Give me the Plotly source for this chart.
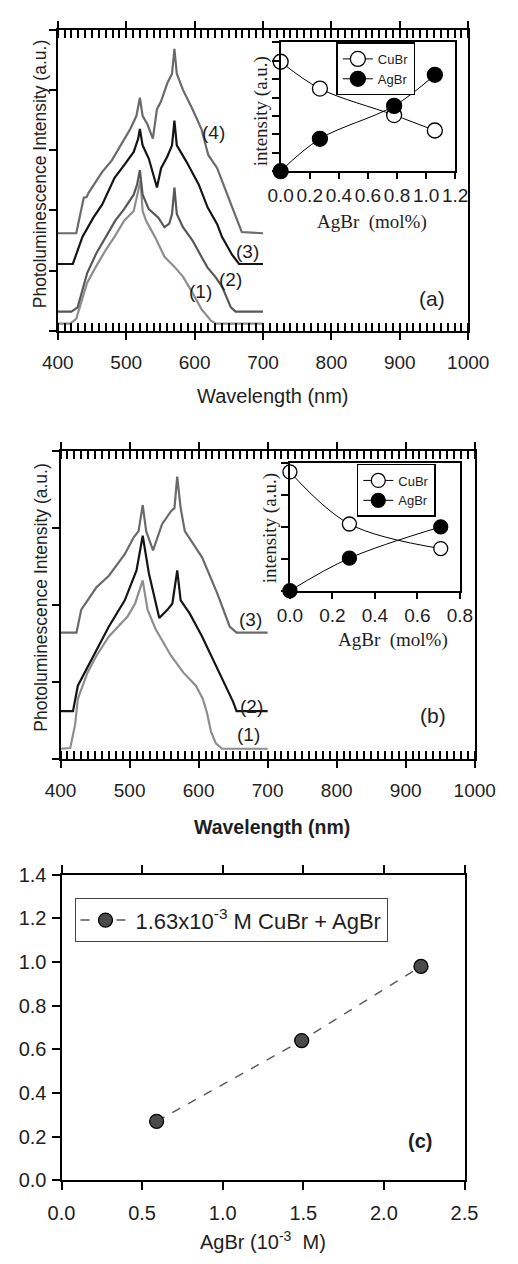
import plotly.graph_objects as go

# ---------------- Panel (a): PL spectra (offset, a.u.) ----------------
a1_nm = [400, 418, 427, 434, 443, 456, 470, 484, 497, 511, 517, 521, 524, 529, 542, 556, 570, 583, 597, 610, 618, 624, 631, 700]
a1_I = [0.12, 0.12, 0.20, 0.47, 0.80, 1.07, 1.34, 1.58, 1.83, 1.99, 2.32, 2.50, 1.99, 1.83, 1.56, 1.23, 1.07, 0.90, 0.63, 0.36, 0.25, 0.17, 0.12, 0.12]

a2_nm = [400, 420, 429, 436, 443, 456, 470, 484, 497, 511, 516, 520, 524, 533, 547, 556, 563, 567, 570.5, 574, 583, 597, 610, 619, 630, 640, 653, 660, 700]
a2_I = [0.32, 0.32, 0.39, 0.69, 0.96, 1.28, 1.56, 1.83, 2.02, 2.26, 2.43, 2.67, 2.26, 2.02, 1.88, 1.72, 1.78, 1.94, 2.38, 1.94, 1.72, 1.50, 1.23, 1.05, 0.90, 0.74, 0.39, 0.32, 0.32]

a3_nm = [400, 422, 436, 452, 465, 483, 497, 511, 517.5, 520, 524, 533, 545, 551, 560, 567, 570.5, 574, 588, 606, 619, 633, 640, 655, 665, 700]
a3_I = [1.11, 1.11, 1.56, 1.88, 2.10, 2.54, 2.75, 2.97, 3.19, 3.35, 3.08, 2.86, 2.38, 2.70, 2.89, 3.08, 3.49, 3.08, 2.81, 2.43, 2.05, 1.77, 1.56, 1.26, 1.11, 1.11]

a4_nm = [400, 427, 438, 442, 445, 465, 479, 493, 506, 515, 520, 524, 531, 539, 545, 551, 560, 567, 570.5, 574, 583, 597, 610, 620, 633, 655, 669, 700]
a4_I = [1.62, 1.62, 2.21, 2.22, 2.29, 2.64, 2.83, 3.10, 3.35, 3.57, 3.87, 3.57, 3.43, 3.19, 3.68, 3.81, 4.11, 4.27, 4.68, 4.27, 4.00, 3.68, 3.35, 2.92, 2.70, 2.05, 1.64, 1.62]

# inset (a)
ia_x = [0.0, 0.27, 0.78, 1.06]
ia_cubr = [5.95, 4.49, 3.05, 2.21]
ia_agbr = [0.0, 1.76, 3.55, 5.24]

# ---------------- Panel (b) ----------------
b1_nm = [400, 414, 421, 425, 439, 452, 470, 484, 497, 508, 519, 526, 538, 560, 578, 596, 606, 612, 618, 625, 634, 700]
b1_I = [0.13, 0.14, 0.44, 0.78, 1.12, 1.34, 1.59, 1.72, 1.85, 2.02, 2.32, 1.94, 1.68, 1.34, 1.12, 0.95, 0.78, 0.60, 0.35, 0.20, 0.13, 0.13]

b2_nm = [400, 418, 425, 448, 470, 493, 510, 519, 528, 543, 555, 562, 569, 574, 587, 605, 627, 650, 655, 700]
b2_I = [0.62, 0.62, 0.95, 1.34, 1.72, 2.06, 2.45, 2.90, 2.41, 1.83, 1.94, 2.02, 2.45, 2.06, 1.89, 1.59, 1.17, 0.74, 0.62, 0.62]

b3_nm = [400, 423, 430, 452, 470, 493, 506, 513, 519, 524, 534, 547, 560, 565, 569, 574, 580, 605, 627, 645, 655, 700]
b3_I = [1.64, 1.64, 1.94, 2.23, 2.38, 2.66, 2.88, 2.96, 3.30, 2.96, 2.71, 3.05, 3.22, 3.26, 3.67, 3.26, 2.96, 2.62, 2.15, 1.72, 1.64, 1.64]

# inset (b)
ib_x = [0.0, 0.28, 0.71]
ib_cubr = [3.72, 2.09, 1.32]
ib_agbr = [0.0, 1.02, 2.0]

# ---------------- Panel (c) ----------------
c_x = [0.59, 1.49, 2.23]
c_y = [0.27, 0.64, 0.98]

wl_ticks = [400, 500, 600, 700, 800, 900, 1000]

W, H = 518, 1264
SANS = "Liberation Sans, Arial, sans-serif"
SERIF = "Liberation Serif, Times New Roman, serif"
INK = "#1e1e1e"


def dx(a, b):
    return [a / W, b / W]


def dy(top, bottom):
    return [1 - bottom / H, 1 - top / H]


fig = go.Figure()

for nm, I, col in [(a1_nm, a1_I, "#8e8e8e"), (a2_nm, a2_I, "#575757"),
                   (a3_nm, a3_I, "#151515"), (a4_nm, a4_I, "#6a6a6a")]:
    fig.add_trace(go.Scatter(x=nm, y=I, mode="lines", line=dict(color=col, width=2.2),
                             xaxis="x", yaxis="y", showlegend=False, hoverinfo="skip"))

for nm, I, col in [(b1_nm, b1_I, "#8e8e8e"), (b2_nm, b2_I, "#151515"),
                   (b3_nm, b3_I, "#6a6a6a")]:
    fig.add_trace(go.Scatter(x=nm, y=I, mode="lines", line=dict(color=col, width=2.2),
                             xaxis="x3", yaxis="y3", showlegend=False, hoverinfo="skip"))

for xs, cu, ag, xa, ya, lg, ms in [(ia_x, ia_cubr, ia_agbr, "x2", "y2", "legend2", 15),
                                   (ib_x, ib_cubr, ib_agbr, "x4", "y4", "legend3", 14)]:
    fig.add_trace(go.Scatter(x=xs, y=cu, mode="lines+markers", name="CuBr",
                             line=dict(color="black", width=1, shape="spline"),
                             marker=dict(size=ms, color="white", line=dict(color="black", width=1.3)),
                             xaxis=xa, yaxis=ya, legend=lg, cliponaxis=False))
    fig.add_trace(go.Scatter(x=xs, y=ag, mode="lines+markers", name="AgBr",
                             line=dict(color="black", width=1, shape="spline"),
                             marker=dict(size=ms, color="black", line=dict(color="black", width=1.3)),
                             xaxis=xa, yaxis=ya, legend=lg, cliponaxis=False))

fig.add_trace(go.Scatter(x=c_x, y=c_y, mode="lines+markers",
                         name="1.63x10<sup>-3</sup> M CuBr + AgBr",
                         line=dict(color="#5a5a5a", width=1.5, dash="dash"),
                         marker=dict(size=14, color="#4a4a4a", line=dict(color="black", width=1.3)),
                         xaxis="x5", yaxis="y5", legend="legend", cliponaxis=False))

tickfont = dict(family=SANS, size=19, color=INK)

main_x = dict(range=[400, 1000], tickvals=wl_ticks, ticks="outside", ticklen=7, tickwidth=2,
              tickcolor="black", showline=True, linecolor="black", linewidth=2, mirror="ticks",
              showgrid=False, zeroline=False, tickfont=tickfont, ticklabelstandoff=6,
              minor=dict(dtick=10, ticks="inside", ticklen=8, tickwidth=2, tickcolor="black",
                         showgrid=False))
main_y = dict(ticks="outside", ticklen=7, tickwidth=2, tickcolor="black", dtick=1,
              showline=True, linecolor="black", linewidth=2, mirror=True, showgrid=False,
              zeroline=False, showticklabels=False)

inset_x = dict(ticks="outside", ticklen=6, tickwidth=1.5, tickcolor="black", dtick=0.2,
               tickformat=".1f", showline=True, linecolor="black", linewidth=2, mirror=True,
               showgrid=False, zeroline=False, tickfont=tickfont)
inset_y = dict(ticks="outside", ticklen=7, tickwidth=1.5, tickcolor="black", dtick=1,
               showline=True, linecolor="black", linewidth=2, mirror=True, showgrid=False,
               zeroline=False, showticklabels=False)

fig.update_layout(
    width=W, height=H, autosize=False,
    margin=dict(l=0, r=0, t=0, b=0),
    paper_bgcolor="white", plot_bgcolor="rgba(0,0,0,0)",
    font=dict(family=SANS, color=INK),
    xaxis=dict(main_x, domain=dx(45, 487), anchor="y"),
    yaxis=dict(main_y, domain=dy(19, 325.5), anchor="x", range=[0, 5]),
    xaxis2=dict(inset_x, domain=dx(285, 473), anchor="y2", range=[0, 1.2]),
    yaxis2=dict(inset_y, domain=dy(32, 163), anchor="x2", range=[0, 7]),
    xaxis3=dict(main_x, domain=dx(48, 494), anchor="y3"),
    yaxis3=dict(main_y, domain=dy(448, 761), anchor="x3", range=[0, 4]),
    xaxis4=dict(inset_x, domain=dx(295, 478), anchor="y4", range=[0, 0.8]),
    yaxis4=dict(inset_y, domain=dy(460, 590), anchor="x4", range=[0, 4]),
    xaxis5=dict(domain=dx(49, 483), anchor="y5", range=[0, 2.5], dtick=0.5, tickformat=".1f",
                ticks="outside", ticklen=8, tickwidth=1.5, tickcolor="black", showline=True,
                linecolor="black", linewidth=2, mirror="ticks", showgrid=False, zeroline=False,
                tickfont=dict(tickfont, size=20), ticklabelstandoff=6),
    yaxis5=dict(domain=dy(879, 1190), anchor="x5", range=[0, 1.4], dtick=0.2, tickformat=".1f",
                ticks="outside", ticklen=8, tickwidth=1.5, tickcolor="black", showline=True,
                linecolor="black", linewidth=2, mirror=True, showgrid=False, zeroline=False,
                tickfont=dict(tickfont, size=20), ticklabelstandoff=1),
    yaxis6=dict(overlaying="y5", side="right", anchor="x5", range=[0, 1.4], dtick=0.2,
                ticks="inside", ticklen=8, tickwidth=1.5, tickcolor="black", showline=False,
                showgrid=False, zeroline=False, showticklabels=False),
    legend=dict(x=63 / W, y=1 - 903 / H, xanchor="left", yanchor="top", bgcolor="white",
                bordercolor="#444", borderwidth=1, font=dict(family=SANS, size=22, color=INK),
                itemwidth=50),
    legend2=dict(x=345 / W, y=1 - 32 / H, xanchor="left", yanchor="top", bgcolor="white",
                 bordercolor="black", borderwidth=1.5, font=dict(family=SANS, size=13, color=INK),
                 itemwidth=30, tracegroupgap=0),
    legend3=dict(x=367 / W, y=1 - 461 / H, xanchor="left", yanchor="top", bgcolor="white",
                 bordercolor="black", borderwidth=1.5, font=dict(family=SANS, size=13, color=INK),
                 itemwidth=30, tracegroupgap=0),
)

ann = []


def paper_text(x, y, text, size=19, family=SANS, angle=0, bold=False):
    ann.append(dict(x=x / W, y=1 - y / H, xref="paper", yref="paper", text=("<b>%s</b>" % text) if bold else text,
                    showarrow=False, textangle=angle, xanchor="center", yanchor="middle",
                    font=dict(family=family, size=size, color=INK)))


def data_text(x, y, text, xr, yr, size=19):
    ann.append(dict(x=x, y=y, xref=xr, yref=yr, text=text, showarrow=False,
                    xanchor="center", yanchor="middle", font=dict(family=SANS, size=size, color=INK)))


for x, y, t in [(628, 3.29, "(4)"), (677, 1.31, "(3)"), (652, 0.86, "(2)"), (608, 0.66, "(1)")]:
    data_text(x, y, t, "x", "y")
for x, y, t in [(675, 1.81, "(3)"), (676, 0.68, "(2)"), (672, 0.31, "(1)")]:
    data_text(x, y, t, "x3", "y3")

paper_text(26, 166, "Photoluminescence Intensity (a.u.)", size=17.5, angle=-90)
paper_text(27, 597, "Photoluminescence Intensity (a.u.)", size=17.5, angle=-90)
paper_text(277, 392, "Wavelength (nm)", size=20)
paper_text(276, 830, "Wavelength (nm)", size=19.5, bold=True)
paper_text(266, 1251, "AgBr (10<sup>-3</sup>  M)", size=20)
paper_text(383, 215, "AgBr  (mol%)", size=19, family=SERIF)
paper_text(406, 640, "AgBr  (mol%)", size=19, family=SERIF)
paper_text(264, 102, "intensity (a.u.)", size=19, family=SERIF, angle=-90)
paper_text(273, 527, "intensity (a.u.)", size=19, family=SERIF, angle=-90)
paper_text(448, 293, "(a)", size=21)
paper_text(449, 717, "(b)", size=21)
paper_text(435, 1150, "(c)", size=20, bold=True)

fig.update_layout(annotations=ann)

fig.write_html("out.html")
